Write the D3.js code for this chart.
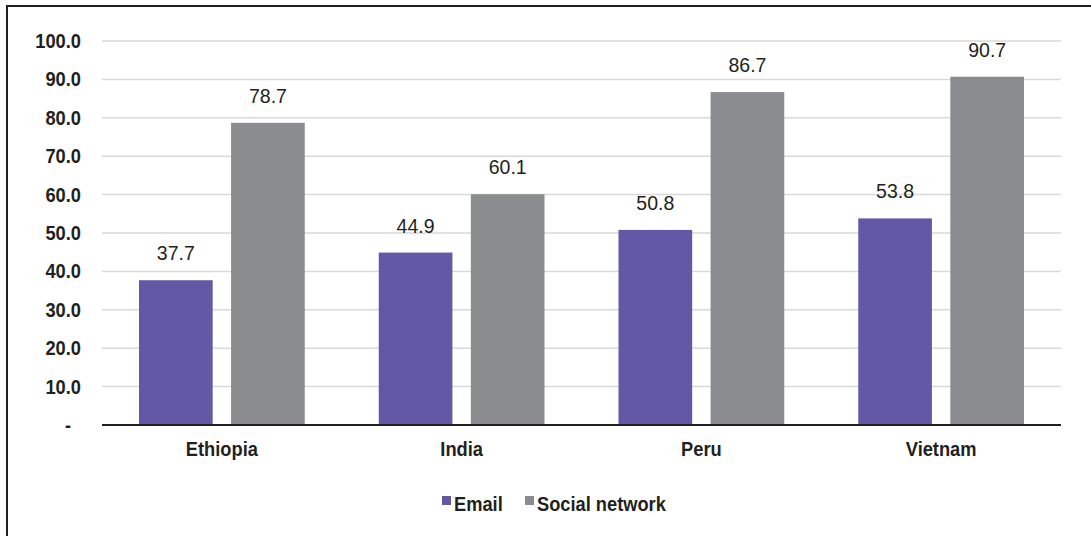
<!DOCTYPE html>
<html>
<head>
<meta charset="utf-8">
<script src="https://cdn.jsdelivr.net/npm/d3@7"></script>
<style>
  body { margin: 0; background: #fff; }
  svg { display: block; }
  .narrow { font-family: "Liberation Sans", Arial, sans-serif; font-weight: bold; fill: #231f20; }
  .val { font-family: "Liberation Sans", Arial, sans-serif; fill: #231f20; }
</style>
</head>
<body>
<script>
const countries = ["Ethiopia", "India", "Peru", "Vietnam"];
const series = ["Email", "Social network"];
const emailValues = [37.7, 44.9, 50.8, 53.8];
const socialValues = [78.7, 60.1, 86.7, 90.7];
const yTicks = [0, 10, 20, 30, 40, 50, 60, 70, 80, 90, 100];
const colors = ["#6358a6", "#8b8c8f"];

const W = 1091, H = 536;
const squeeze = 0.87; // fake an Arial Narrow look
const svg = d3.select("body").append("svg").attr("width", W).attr("height", H);

// outer frame (right and bottom edges sit past the picture)
svg.append("rect")
  .attr("x", 7).attr("y", 6).attr("width", W + 10).attr("height", H + 10)
  .attr("fill", "none").attr("stroke", "#231f20").attr("stroke-width", 2);

const plotL = 102, plotR = 1061, plotT = 41, zeroY = 425;
const y = d3.scaleLinear().domain([0, 100]).range([zeroY, plotT]);
const x = d3.scaleBand().domain(countries).range([plotL, plotR]);
const xs = d3.scaleBand().domain(series)
  .range([37, x.bandwidth() - 37]).paddingInner(0.2);

// gridlines
svg.append("g").selectAll("line")
  .data(yTicks.filter(d => d > 0))
  .join("line")
  .attr("x1", plotL).attr("x2", plotR)
  .attr("y1", d => y(d)).attr("y2", d => y(d))
  .attr("stroke", "#d9d9d9").attr("stroke-width", 1.5);

// y labels
svg.append("g").selectAll("text")
  .data(yTicks)
  .join("text")
  .attr("class", "narrow")
  .attr("transform", d => `translate(${d === 0 ? 71 : 81},${y(d) + 7}) scale(${squeeze},1)`)
  .attr("text-anchor", "end")
  .style("font-size", "21px")
  .text(d => d === 0 ? "-" : d.toFixed(1));

const rows = countries.map((c, i) => ({ c, vals: [emailValues[i], socialValues[i]] }));

const groups = svg.append("g").selectAll("g")
  .data(rows)
  .join("g")
  .attr("transform", d => `translate(${x(d.c)},0)`);

groups.selectAll("rect")
  .data(d => d.vals.map((v, j) => ({ s: series[j], v, j })))
  .join("rect")
  .attr("x", d => xs(d.s))
  .attr("width", xs.bandwidth())
  .attr("y", d => y(d.v))
  .attr("height", d => zeroY - y(d.v))
  .attr("fill", d => colors[d.j]);

groups.selectAll("text.val")
  .data(d => d.vals.map((v, j) => ({ s: series[j], v })))
  .join("text")
  .attr("class", "val")
  .attr("x", d => xs(d.s) + xs.bandwidth() / 2)
  .attr("y", d => y(d.v) - 20)
  .attr("text-anchor", "middle")
  .style("font-size", "19.5px")
  .text(d => d.v.toFixed(1));

// zero axis line
svg.append("line")
  .attr("x1", plotL).attr("x2", plotR)
  .attr("y1", zeroY).attr("y2", zeroY)
  .attr("stroke", "#231f20").attr("stroke-width", 2);

// category labels
svg.append("g").selectAll("text")
  .data(countries)
  .join("text")
  .attr("class", "narrow")
  .attr("transform", d => `translate(${x(d) + x.bandwidth() / 2},456) scale(${squeeze},1)`)
  .attr("text-anchor", "middle")
  .style("font-size", "21px")
  .text(d => d);

// legend
const legendX = [442, 525];
const lg = svg.append("g").selectAll("g")
  .data(series)
  .join("g")
  .attr("transform", (d, i) => `translate(${legendX[i]},0)`);
lg.append("rect")
  .attr("x", 0).attr("y", 496).attr("width", 9).attr("height", 9)
  .attr("fill", (d, i) => colors[i]);
lg.append("text")
  .attr("class", "narrow")
  .attr("transform", `translate(12,511) scale(${squeeze},1)`)
  .style("font-size", "21px")
  .text(d => d);
</script>
</body>
</html>
